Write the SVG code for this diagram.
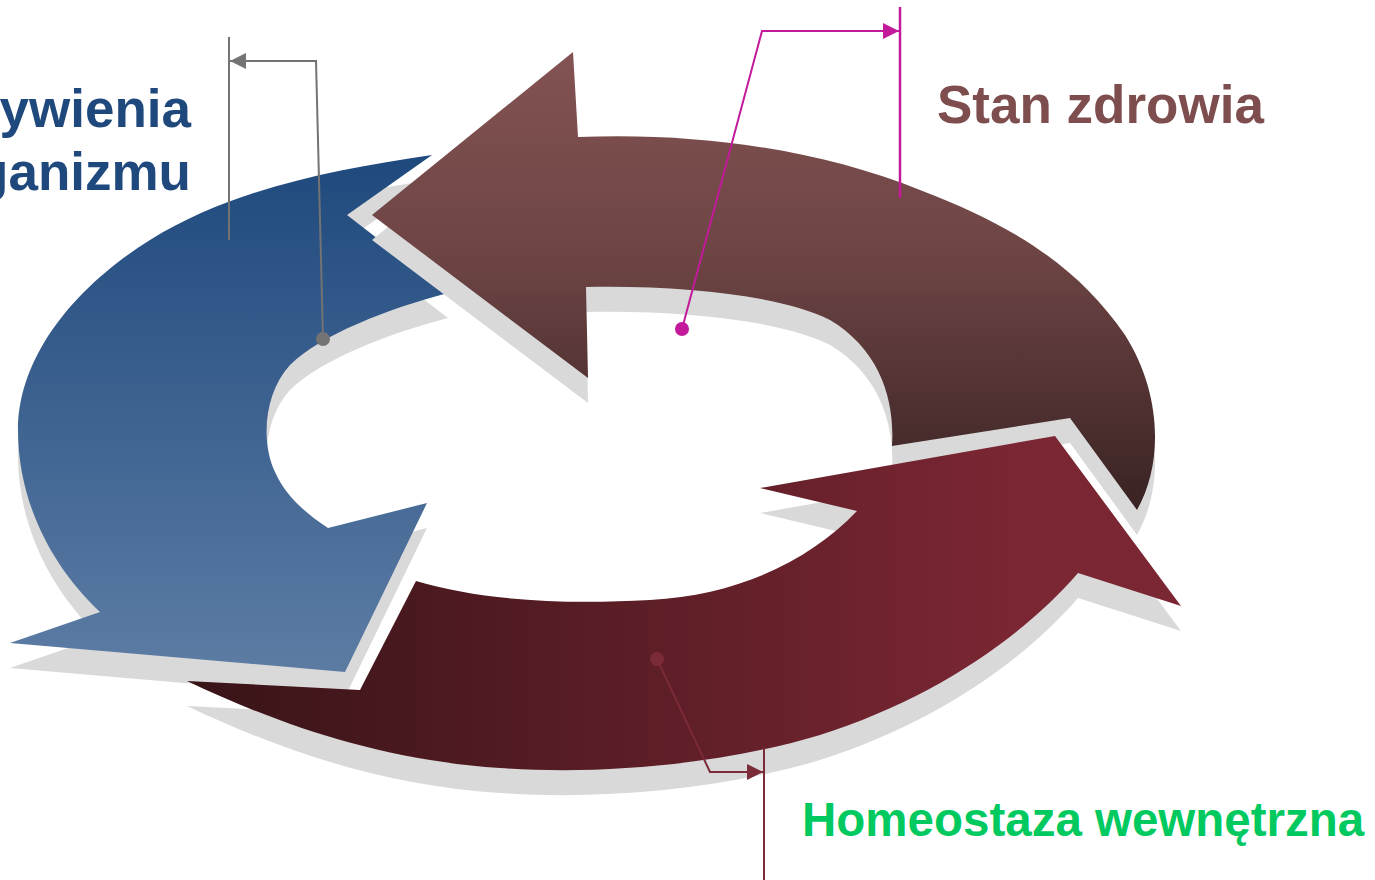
<svg xmlns="http://www.w3.org/2000/svg" width="1375" height="880" viewBox="0 0 1375 880">
<defs>
<linearGradient id="gBlue" gradientUnits="userSpaceOnUse" x1="0" y1="155" x2="0" y2="660">
<stop offset="0" stop-color="#1f497d"/>
<stop offset="1" stop-color="#5b7ba3"/>
</linearGradient>
<linearGradient id="gBrown" gradientUnits="userSpaceOnUse" x1="0" y1="52" x2="0" y2="512">
<stop offset="0" stop-color="#845353"/>
<stop offset="0.45" stop-color="#6d4444"/>
<stop offset="1" stop-color="#392222"/>
</linearGradient>
<linearGradient id="gRed" gradientUnits="userSpaceOnUse" x1="190" y1="0" x2="1010" y2="0">
<stop offset="0" stop-color="#381417"/>
<stop offset="1" stop-color="#7a2633"/>
</linearGradient>
<marker id="mGray" viewBox="0 0 16 16" markerWidth="16" markerHeight="16" refX="16" refY="8" orient="auto" markerUnits="userSpaceOnUse"><path d="M0,0 L16,8 L0,16 Z" fill="#737373"/></marker>
<marker id="mPink" viewBox="0 0 16 16" markerWidth="16" markerHeight="16" refX="16" refY="8" orient="auto" markerUnits="userSpaceOnUse"><path d="M0,0 L16,8 L0,16 Z" fill="#c21a9a"/></marker>
<marker id="mRed" viewBox="0 0 16 16" markerWidth="16" markerHeight="16" refX="16" refY="8" orient="auto" markerUnits="userSpaceOnUse"><path d="M0,0 L16,8 L0,16 Z" fill="#7b2a38"/></marker>
<path id="pBlue" d="M432,155 L347,215 L448,293 C390,308 320,335 290,365 C265,392 260,440 275,472 C285,495 305,513 328,528 L427,503 L345,672 L10,643 L100,612 C50,565 18,500 18,430 C18,360 70,290 150,240 C230,190 330,170 432,155 Z"/>
<path id="pBrown" d="M372,215 L573,52 L578,137 C700,132 820,150 920,190 C1020,228 1080,270 1125,335 C1160,390 1165,460 1137,510 L1070,418 L892,446 C895,400 880,350 830,320 C780,295 680,285 586,287 L588,378 Z"/>
<path id="pRed" d="M187,681 L360,690 L416,581 C480,600 560,605 650,600 C740,595 810,560 857,511 L760,488 L1055,436 L1181,606 L1078,573 C1020,640 930,700 820,735 C720,765 600,775 500,768 C380,760 280,725 187,681 Z"/>
</defs>
<style>
.shadow{fill:#d9d9d9}
.lbl{font-family:"Liberation Sans",Arial,sans-serif;font-weight:bold}
.conn{fill:none;stroke-width:2}
</style>
<rect width="1375" height="880" fill="#ffffff"/>
<g id="node-odzywienie">
<use href="#pBlue" class="shadow" transform="translate(0,25)"/>
<use href="#pBlue" fill="url(#gBlue)"/>
<text class="lbl" x="191" y="127" font-size="53" fill="#1f497d" text-anchor="end">ywienia</text>
<text class="lbl" x="191" y="190" font-size="53" fill="#1f497d" text-anchor="end">ganizmu</text>
</g>
<g id="node-stan-zdrowia">
<use href="#pBrown" class="shadow" transform="translate(0,25)"/>
<use href="#pBrown" fill="url(#gBrown)"/>
<text class="lbl" x="937" y="123" font-size="53" fill="#7e4d4e">Stan zdrowia</text>
</g>
<g id="node-homeostaza">
<use href="#pRed" class="shadow" transform="translate(0,25)"/>
<use href="#pRed" fill="url(#gRed)"/>
<text class="lbl" x="802" y="836" font-size="47.5" fill="#00c960">Homeostaza wewnętrzna</text>
</g>
<g id="connectors">
<line x1="229" y1="37" x2="229" y2="240" stroke="#737373" stroke-width="2"/>
<path class="conn" d="M323,339 L316,61 L230,61" stroke="#737373" marker-end="url(#mGray)"/>
<circle cx="323" cy="339" r="7" fill="#737373"/>
<line x1="900" y1="7" x2="900" y2="198" stroke="#c21a9a" stroke-width="2.5"/>
<path class="conn" d="M682,329 L762,31 L899,31" stroke="#c21a9a" stroke-width="2.5" marker-end="url(#mPink)"/>
<circle cx="682" cy="329" r="7" fill="#c21a9a"/>
<line x1="764" y1="748" x2="764" y2="880" stroke="#7b2a38" stroke-width="2"/>
<path class="conn" d="M657,659 L710,772 L763,772" stroke="#7b2a38" marker-end="url(#mRed)"/>
<circle cx="657" cy="659" r="7" fill="#7b2a38"/>
</g>
</svg>
